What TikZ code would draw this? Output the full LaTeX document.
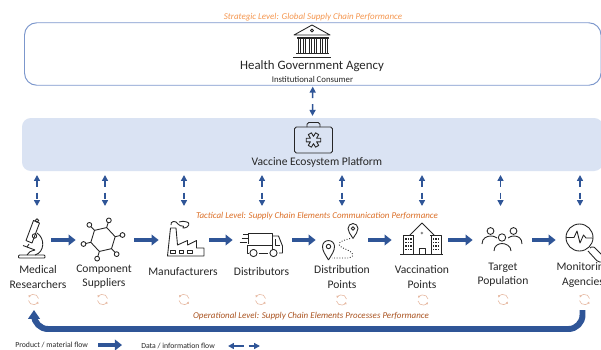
\documentclass[tikz,border=0pt]{standalone}
\usepackage{fontspec}
\setmainfont{Carlito}
\usetikzlibrary{arrows.meta}
\definecolor{boxblue}{HTML}{7C97CC}
\definecolor{panelblue}{HTML}{DAE3F3}
\definecolor{flowblue}{HTML}{2F5597}
\definecolor{inkgrey}{HTML}{262626}
\definecolor{lvlstrategic}{HTML}{F4964F}
\definecolor{lvltactical}{HTML}{DB6E26}
\definecolor{lvloperational}{HTML}{A9521F}
\definecolor{cyclepink}{HTML}{E6B9A2}
\begin{document}
\begin{tikzpicture}[x=0.02cm,y=-0.02cm,
	every node/.style={text=inkgrey,inner sep=0pt},
	title/.style={font=\fontsize{7.3}{9}\selectfont},
	sublabel/.style={font=\fontsize{5}{6}\selectfont},
	steplabel/.style={font=\fontsize{6.6}{8}\selectfont,align=center},
	legendlabel/.style={font=\fontsize{4.4}{6}\selectfont},
	levellabel/.style={font=\fontsize{5.1}{6}\selectfont\itshape},
	iconnode/.style={minimum height=34pt,minimum width=#1},
	icon/.style={draw=inkgrey,line width=0.5pt,line join=round},
	flowlink/.style={draw=flowblue,line width=2.6pt,-{Triangle[length=4pt,width=6pt]}},
	datalink/.style={draw=flowblue,line width=0.9pt,{Triangle[length=3.4pt,width=3.4pt]}-{Triangle[length=3.4pt,width=3.4pt]},dash pattern=on 3.4pt off 3.4pt},
	returnlink/.style={draw=flowblue,line width=3.4pt,-{Triangle[length=5pt,width=6.5pt]},rounded corners=8pt},
	cyclemark/.pic={
		\draw [draw=cyclepink,line width=0.35pt,-{Latex[length=1.3pt,width=1.5pt]}] (-5,1) arc (170:20:5);
		\draw [draw=cyclepink,line width=0.35pt,-{Latex[length=1.3pt,width=1.5pt]}] (5,-1) arc (-10:-160:5);
	}]
	\useasboundingbox (0,0) rectangle (601,349);

	\node (strategic) at (313,17) [levellabel,text=lvlstrategic] {Strategic Level: Global Supply Chain Performance};
	\node (health) at (312.75,54) [draw=boxblue,line width=0.55pt,rounded corners=7pt,minimum width=576.5*0.02cm,minimum height=62.5*0.02cm] {};
	\node (platform) at (312.5,144.5) [fill=panelblue,rounded corners=5pt,minimum width=581*0.02cm,minimum height=53*0.02cm] {};
	\node (healthtitle) at (312,66) [title] {Health Government Agency};
	\node (healthsub) at (312.5,79) [sublabel] {Institutional Consumer};
	\node (platformtitle) at (317,162) [font=\fontsize{6.6}{8}\selectfont] {Vaccine Ecosystem Platform};

	\draw [datalink,shorten <=0.5pt,shorten >=1pt] (health.south) -- (platform.north);

	\draw [icon] (312,25) -- (330,35) -- (294,35) -- cycle;
	\draw [icon] (312,30.5) circle (1.6);
	\draw [icon] (297,37) rectangle (328,38);
	\foreach \x in {298,303.5,309,314.5,320,325.5}
		\draw [icon] (\x,38) rectangle (\x+2,53);
	\draw [icon] (296,53.5) -- (329,53.5);
	\draw [icon] (293,57) -- (331,57);

	\draw [icon,rounded corners=1pt] (294.5,127) rectangle (332.5,153);
	\draw [icon,rounded corners=1pt] (307,127) -- (307,122.5) -- (320,122.5) -- (320,127);
	\begin{scope}[shift={(313.5,140)}]
		\draw [icon] (-14:7.5) \foreach \a in {0,60,120,180,240,300} { -- (\a-14:7.5) -- (\a+14:7.5) -- (\a+30:3.6)} -- cycle;
	\end{scope}

	\node (micro) at (36.5,240) [iconnode=29*0.02cm] {};
	\node (hexa) at (105,240) [iconnode=58*0.02cm] {};
	\node (factory) at (184,240) [iconnode=50*0.02cm] {};
	\node (truck) at (262.5,240) [iconnode=59*0.02cm] {};
	\node (pins) at (342,240) [iconnode=52*0.02cm] {};
	\node (hospital) at (420,240) [iconnode=56*0.02cm] {};
	\node (people) at (502.5,240) [iconnode=59*0.02cm] {};
	\node (monitor) at (580,240) [iconnode=48*0.02cm] {};

	\foreach \a/\b in {micro/hexa,hexa/factory,factory/truck,truck/pins,pins/hospital,hospital/people,people/monitor}
		\draw [flowlink] (\a) -- (\b);

	\foreach \n/\x in {a/37,b/105,c/184,d/262,e/342,f/422,g/500.5,h/580} {
		\coordinate (top\n) at (\x,175);
		\coordinate (bot\n) at (\x,206);
		\draw [datalink] (top\n) -- (bot\n);
	}

	\draw [icon,rounded corners=0.5pt] (18.5,255) rectangle (45,258);
	\draw [icon] (33.5,220.5) -- (39.5,223) -- (32,243) -- (26,240.5) -- cycle;
	\draw [icon] (37,220.5) circle (1.8);
	\draw [icon] (34.5,236) circle (2.2);
	\draw [icon] (37,233) .. controls (45,238) and (45,252) .. (35,255);
	\draw [icon] (23,245.5) -- (35,250);
	\draw [icon] (27,255) .. controls (28,252) and (31,251) .. (35,250);
	\draw [icon] (29,244) -- (27,247);

	\begin{scope}[shift={(103,239.5)}]
		\draw [icon] (47:12.5) -- (107:12.5) -- (167:12.5) -- (227:12.5) -- (287:12.5) -- (347:12.5) -- cycle;
		\foreach \a in {47,107,167,227,287,347} {
			\draw [icon] (\a:12.5) -- (\a:17.5);
			\draw [icon] (\a:20) circle (2.4);
		}
	\end{scope}

	\draw [icon] (167.5,256) -- (170.5,228) -- (176,228) -- (177.5,245) -- (187.5,240.5) -- (187.5,245) -- (196.5,240.5) -- (196.5,248) -- (204,248) -- (204,256) -- cycle;
	\foreach \x in {170.5,179,187.5}
		\draw [icon] (\x,250) rectangle (\x+4.5,253);
	\draw [icon] (171,225) .. controls (170,221) and (176,220) .. (178,224) .. controls (181,228) and (185,224) .. (183,228) .. controls (190,228) and (190,222) .. (187,222) .. controls (184,220) and (182,222) .. (179,222);

	\draw [icon] (248,233.5) -- (272,233.5) -- (272,250);
	\draw [icon] (248,233.5) -- (248,244);
	\draw [icon] (247,245) -- (272,245);
	\draw [icon] (247,245) -- (247,253) -- (249,253);
	\draw [icon] (258.5,253) -- (268,253);
	\draw [icon] (272,236) -- (278.5,236) -- (282.5,246) -- (282.5,253) -- (279,253);
	\draw [icon] (275,239) -- (275,245) -- (280,245);
	\draw [icon] (253.5,253) circle (3.6);
	\draw [icon] (273.5,253) circle (3.6);
	\draw [icon] (239.5,242.5) -- (247,242.5);
	\draw [icon] (241.5,238.5) -- (248,238.5);
	\draw [icon] (243,234.5) -- (247.5,234.5);

	\draw [icon] (328.5,260) .. controls (325,254) and (322.5,251) .. (322.5,246.5) arc (180:360:6) .. controls (334.5,251) and (332,254) .. (328.5,260);
	\draw [icon] (328.5,246.5) circle (2.2);
	\draw [icon] (353,238.5) .. controls (350.5,234) and (348,232) .. (348,228.5) arc (180:360:5) .. controls (358,232) and (355.5,234) .. (353,238.5);
	\draw [icon] (353,228.5) circle (1.8);
	\draw [icon,densely dotted] (350,238.5) .. controls (340,241) and (335,244) .. (343,248) .. controls (350,251) and (358,255) .. (349,258) -- (332,258);

	\draw [icon] (403,254) -- (403,235) -- (414,235);
	\draw [icon] (430,235) -- (441,235) -- (441,254);
	\draw [icon] (400,254) -- (443,254);
	\draw [icon] (410,235) -- (422,223) -- (434,235);
	\draw [icon] (413,235) -- (413,254);
	\draw [icon] (431,235) -- (431,254);
	\draw [icon] (419,254) -- (419,248) -- (425,248) -- (425,254);
	\node (hospitalstar) at (422,235) [font=\fontsize{5}{5}\selectfont] {*};
	\foreach \x in {406,408.5,411,433.5,436,438.5}
		\foreach \y in {239,242.5,246,249.5}
			\fill [inkgrey] (\x-0.8,\y-0.8) rectangle (\x+0.8,\y+0.8);

	\draw [icon] (490.5,231) circle (3.4);
	\draw [icon] (482,244) .. controls (482,238) and (487,236) .. (491,236) .. controls (493,236) and (495,236.5) .. (497,238);
	\draw [icon] (513.5,231) circle (3.4);
	\draw [icon] (508,238) .. controls (510,236.5) and (512,236) .. (514,236) .. controls (518,236) and (522,238) .. (522,244);
	\draw [icon] (502,237.5) circle (3.7);
	\draw [icon] (494,251) .. controls (494,246) and (498,243.5) .. (502,243.5) .. controls (506,243.5) and (511,246) .. (511,251);

	\draw [icon] (579.5,237.5) circle (13.5);
	\draw [icon] (566,237.5) -- (574,237.5) -- (577,231) -- (580,243) -- (583.5,235) -- (586,238) -- (593,238);
	\draw [icon,rounded corners=1pt] (590,248) -- (593,246) -- (604,257) -- (604,262) -- (598,262) -- (588,251);

	\node (labmicro) at (38,277) [steplabel] {Medical\\Researchers};
	\node (labhexa) at (104,277) [steplabel] {Component\\Suppliers};
	\node (labfactory) at (183,271.5) [steplabel] {Manufacturers};
	\node (labtruck) at (261.5,271.5) [steplabel] {Distributors};
	\node (labpins) at (342,277) [steplabel] {Distribution\\Points};
	\node (labhospital) at (422,277) [steplabel] {Vaccination\\Points};
	\node (labpeople) at (503,274.5) [steplabel] {Target\\Population};
	\node (labmonitor) at (583,275) [steplabel] {Monitoring\\Agencies};

	\node (tactical) at (317,216) [levellabel,text=lvltactical] {Tactical Level: Supply Chain Elements Communication Performance};
	\node (operational) at (311,316.5) [levellabel,text=lvloperational] {Operational Level: Supply Chain Elements Processes Performance};

	\foreach \x/\y in {33.5/299.5,102.5/299.5,184/299.5,260.5/299.5,341.5/300,423/300,503/299.5,584.5/299.5}
		\pic at (\x,\y) {cyclemark};

	\coordinate (retstart) at (582.5,310);
	\coordinate (retbase) at (34,329);
	\coordinate (retend) at (34,310);
	\draw [returnlink] (retstart) |- (retbase) -- (retend);

	\node (legendflow) at (15,345) [legendlabel,anchor=west] {Product / material flow};
	\coordinate (flowa) at (98,345);
	\coordinate (flowb) at (122,345);
	\draw [flowlink] (flowa) -- (flowb);
	\node (legenddata) at (141,346) [legendlabel,anchor=west] {Data / information flow};
	\coordinate (dataa) at (228,346);
	\coordinate (datab) at (260,346);
	\draw [datalink,dash pattern=on 6pt off 2.5pt] (dataa) -- (datab);
\end{tikzpicture}
\end{document}
